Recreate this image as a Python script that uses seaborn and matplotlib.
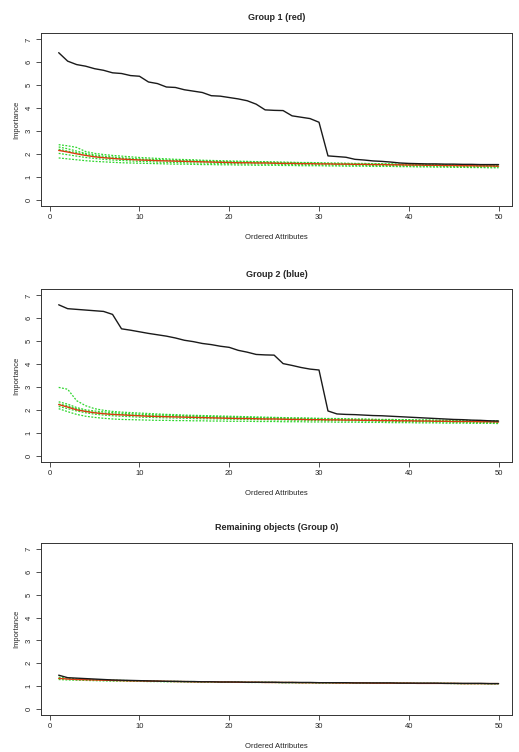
import numpy as np
import pandas as pd
import matplotlib
matplotlib.use('Agg')
import matplotlib.pyplot as plt
import seaborn as sns

# ordered attribute index 1..50
attrs = list(range(1, 51))

titles = ['Group 1 (red)', 'Group 2 (blue)', 'Remaining objects (Group 0)']

# group 1
g1_obs = [6.42, 6.05, 5.90, 5.83, 5.72, 5.65, 5.54, 5.51, 5.42, 5.39,
          5.14, 5.07, 4.92, 4.90, 4.80, 4.74, 4.68, 4.54, 4.52, 4.46,
          4.40, 4.32, 4.17, 3.92, 3.90, 3.89, 3.66, 3.60, 3.54, 3.38,
          1.91, 1.88, 1.85, 1.76, 1.73, 1.69, 1.67, 1.64, 1.60, 1.58,
          1.57, 1.56, 1.56, 1.55, 1.55, 1.54, 1.54, 1.53, 1.53, 1.53]
g1_mean = [2.15, 2.08, 2.00, 1.93, 1.87, 1.83, 1.80, 1.77, 1.75, 1.73,
           1.72, 1.70, 1.69, 1.68, 1.67, 1.66, 1.65, 1.64, 1.63, 1.62,
           1.61, 1.61, 1.60, 1.60, 1.59, 1.58, 1.58, 1.57, 1.57, 1.56,
           1.56, 1.55, 1.55, 1.54, 1.54, 1.53, 1.53, 1.52, 1.52, 1.51,
           1.51, 1.50, 1.50, 1.49, 1.49, 1.48, 1.48, 1.47, 1.47, 1.46]
g1_perm = [
    [2.40, 2.35, 2.28, 2.10, 2.02, 1.97, 1.93, 1.90, 1.87, 1.84,
     1.82, 1.80, 1.78, 1.76, 1.75, 1.74, 1.72, 1.71, 1.70, 1.69,
     1.68, 1.67, 1.66, 1.66, 1.65, 1.64, 1.63, 1.62, 1.62, 1.61,
     1.60, 1.60, 1.59, 1.58, 1.58, 1.57, 1.57, 1.56, 1.55, 1.55,
     1.54, 1.54, 1.53, 1.53, 1.52, 1.52, 1.51, 1.51, 1.50, 1.50],
    [2.30, 2.22, 2.12, 2.02, 1.95, 1.90, 1.86, 1.83, 1.80, 1.78,
     1.76, 1.75, 1.73, 1.72, 1.71, 1.70, 1.69, 1.68, 1.67, 1.66,
     1.65, 1.64, 1.64, 1.63, 1.62, 1.61, 1.61, 1.60, 1.59, 1.59,
     1.58, 1.57, 1.57, 1.56, 1.56, 1.55, 1.55, 1.54, 1.53, 1.53,
     1.52, 1.52, 1.51, 1.51, 1.50, 1.49, 1.49, 1.48, 1.48, 1.47],
    [2.20, 2.12, 2.05, 1.98, 1.90, 1.85, 1.81, 1.79, 1.77, 1.75,
     1.73, 1.72, 1.71, 1.70, 1.69, 1.68, 1.67, 1.66, 1.65, 1.64,
     1.63, 1.63, 1.62, 1.62, 1.61, 1.60, 1.60, 1.59, 1.59, 1.58,
     1.57, 1.57, 1.56, 1.56, 1.55, 1.55, 1.54, 1.54, 1.53, 1.53,
     1.52, 1.52, 1.51, 1.51, 1.50, 1.50, 1.49, 1.49, 1.48, 1.48],
    [2.02, 1.96, 1.90, 1.84, 1.80, 1.76, 1.73, 1.71, 1.69, 1.67,
     1.66, 1.64, 1.63, 1.62, 1.61, 1.60, 1.60, 1.59, 1.58, 1.57,
     1.57, 1.56, 1.56, 1.55, 1.55, 1.54, 1.54, 1.53, 1.53, 1.52,
     1.52, 1.51, 1.51, 1.50, 1.50, 1.49, 1.49, 1.48, 1.48, 1.47,
     1.47, 1.46, 1.46, 1.45, 1.45, 1.44, 1.44, 1.43, 1.43, 1.42],
    [1.82, 1.78, 1.74, 1.70, 1.67, 1.65, 1.63, 1.61, 1.60, 1.59,
     1.58, 1.57, 1.56, 1.55, 1.55, 1.54, 1.53, 1.53, 1.52, 1.52,
     1.51, 1.51, 1.50, 1.50, 1.50, 1.49, 1.49, 1.48, 1.48, 1.48,
     1.47, 1.47, 1.46, 1.46, 1.46, 1.45, 1.45, 1.45, 1.44, 1.44,
     1.43, 1.43, 1.42, 1.42, 1.41, 1.41, 1.40, 1.40, 1.39, 1.39],
]

# group 2
g2_obs = [6.59, 6.42, 6.39, 6.36, 6.33, 6.30, 6.17, 5.54, 5.48, 5.41,
          5.34, 5.28, 5.22, 5.14, 5.04, 4.98, 4.90, 4.85, 4.78, 4.73,
          4.60, 4.52, 4.42, 4.40, 4.39, 4.02, 3.94, 3.85, 3.78, 3.74,
          1.95, 1.82, 1.80, 1.79, 1.77, 1.75, 1.74, 1.72, 1.70, 1.68,
          1.66, 1.64, 1.62, 1.60, 1.58, 1.57, 1.55, 1.54, 1.52, 1.51]
g2_mean = [2.23, 2.12, 2.00, 1.93, 1.87, 1.83, 1.80, 1.78, 1.76, 1.74,
           1.72, 1.71, 1.70, 1.69, 1.68, 1.67, 1.66, 1.65, 1.64, 1.63,
           1.62, 1.62, 1.61, 1.60, 1.60, 1.59, 1.58, 1.58, 1.57, 1.57,
           1.56, 1.56, 1.55, 1.55, 1.54, 1.54, 1.53, 1.53, 1.52, 1.52,
           1.51, 1.51, 1.50, 1.50, 1.49, 1.49, 1.49, 1.48, 1.48, 1.47]
g2_perm = [
    [2.98, 2.90, 2.40, 2.18, 2.05, 1.98, 1.93, 1.90, 1.88, 1.86,
     1.84, 1.82, 1.80, 1.79, 1.77, 1.76, 1.75, 1.74, 1.73, 1.72,
     1.71, 1.70, 1.69, 1.68, 1.67, 1.66, 1.65, 1.65, 1.64, 1.63,
     1.62, 1.62, 1.61, 1.60, 1.60, 1.59, 1.58, 1.58, 1.57, 1.57,
     1.56, 1.56, 1.55, 1.55, 1.54, 1.54, 1.53, 1.53, 1.52, 1.52],
    [2.35, 2.25, 2.10, 2.00, 1.95, 1.91, 1.88, 1.85, 1.83, 1.81,
     1.79, 1.78, 1.77, 1.75, 1.74, 1.73, 1.72, 1.71, 1.70, 1.69,
     1.68, 1.67, 1.66, 1.65, 1.65, 1.64, 1.63, 1.62, 1.62, 1.61,
     1.60, 1.60, 1.59, 1.58, 1.58, 1.57, 1.56, 1.56, 1.55, 1.55,
     1.54, 1.54, 1.53, 1.52, 1.52, 1.51, 1.51, 1.50, 1.50, 1.49],
    [2.25, 2.18, 2.05, 1.95, 1.89, 1.85, 1.82, 1.80, 1.78, 1.76,
     1.75, 1.74, 1.73, 1.72, 1.71, 1.70, 1.69, 1.68, 1.67, 1.66,
     1.65, 1.65, 1.64, 1.63, 1.63, 1.62, 1.61, 1.61, 1.60, 1.60,
     1.59, 1.58, 1.58, 1.57, 1.57, 1.56, 1.56, 1.55, 1.55, 1.54,
     1.53, 1.53, 1.52, 1.52, 1.51, 1.51, 1.50, 1.50, 1.49, 1.49],
    [2.15, 2.05, 1.95, 1.87, 1.81, 1.77, 1.74, 1.72, 1.70, 1.68,
     1.67, 1.66, 1.65, 1.64, 1.63, 1.62, 1.61, 1.61, 1.60, 1.59,
     1.59, 1.58, 1.57, 1.57, 1.56, 1.56, 1.55, 1.55, 1.54, 1.54,
     1.53, 1.53, 1.52, 1.52, 1.51, 1.51, 1.50, 1.50, 1.49, 1.49,
     1.48, 1.48, 1.47, 1.47, 1.46, 1.46, 1.45, 1.45, 1.44, 1.44],
    [2.05, 1.92, 1.80, 1.72, 1.67, 1.63, 1.60, 1.58, 1.57, 1.56,
     1.55, 1.54, 1.54, 1.53, 1.53, 1.52, 1.52, 1.51, 1.51, 1.50,
     1.50, 1.50, 1.49, 1.49, 1.49, 1.48, 1.48, 1.48, 1.47, 1.47,
     1.47, 1.46, 1.46, 1.46, 1.45, 1.45, 1.45, 1.44, 1.44, 1.44,
     1.43, 1.43, 1.43, 1.42, 1.42, 1.42, 1.41, 1.41, 1.41, 1.40],
]

# group 0
g0_obs = [1.47, 1.36, 1.34, 1.32, 1.30, 1.28, 1.26, 1.25, 1.24, 1.23,
          1.22, 1.21, 1.20, 1.20, 1.19, 1.19, 1.18, 1.18, 1.17, 1.17,
          1.17, 1.16, 1.16, 1.16, 1.16, 1.15, 1.15, 1.15, 1.15, 1.14,
          1.14, 1.14, 1.14, 1.13, 1.13, 1.13, 1.13, 1.13, 1.12, 1.12,
          1.12, 1.12, 1.12, 1.11, 1.11, 1.11, 1.11, 1.11, 1.10, 1.10]
g0_mean = [1.33, 1.30, 1.28, 1.27, 1.26, 1.25, 1.24, 1.23, 1.22, 1.22,
           1.21, 1.21, 1.20, 1.19, 1.19, 1.18, 1.18, 1.18, 1.17, 1.17,
           1.16, 1.16, 1.16, 1.15, 1.15, 1.15, 1.15, 1.14, 1.14, 1.14,
           1.14, 1.13, 1.13, 1.13, 1.13, 1.12, 1.12, 1.12, 1.12, 1.12,
           1.11, 1.11, 1.11, 1.11, 1.11, 1.10, 1.10, 1.10, 1.10, 1.10]
g0_perm = [
    [1.38, 1.34, 1.31, 1.29, 1.27, 1.26, 1.25, 1.24, 1.23, 1.22,
     1.22, 1.21, 1.20, 1.20, 1.19, 1.19, 1.18, 1.18, 1.17, 1.17,
     1.17, 1.16, 1.16, 1.16, 1.15, 1.15, 1.15, 1.14, 1.14, 1.14,
     1.14, 1.13, 1.13, 1.13, 1.13, 1.12, 1.12, 1.12, 1.12, 1.12,
     1.11, 1.11, 1.11, 1.11, 1.11, 1.10, 1.10, 1.10, 1.10, 1.10],
    [1.28, 1.26, 1.25, 1.24, 1.23, 1.22, 1.21, 1.21, 1.20, 1.20,
     1.19, 1.19, 1.18, 1.18, 1.18, 1.17, 1.17, 1.17, 1.16, 1.16,
     1.16, 1.15, 1.15, 1.15, 1.15, 1.14, 1.14, 1.14, 1.14, 1.13,
     1.13, 1.13, 1.13, 1.13, 1.12, 1.12, 1.12, 1.12, 1.12, 1.11,
     1.11, 1.11, 1.11, 1.11, 1.10, 1.10, 1.10, 1.10, 1.09, 1.09],
]

groups = [(g1_obs, g1_mean, g1_perm),
          (g2_obs, g2_mean, g2_perm),
          (g0_obs, g0_mean, g0_perm)]

sns.set_style('ticks')
plt.rcParams['font.family'] = ['Liberation Sans', 'DejaVu Sans']

fig = plt.figure(figsize=(5.19, 7.52), dpi=100)
# panel boxes in pixels (top, bottom)
boxes = [(33, 206), (289, 462), (543, 715)]
W, H = 519.0, 752.0

for (top, bot), title, (obs, mean, perm) in zip(boxes, titles, groups):
    ax = fig.add_axes([41 / W, 1 - bot / H, (512 - 41) / W, (bot - top) / H])
    for p in perm:
        sns.lineplot(x=attrs, y=p, ax=ax, color='#2ed62e', linestyle=(0, (1.5, 1.2)),
                     linewidth=0.9)
    sns.lineplot(x=attrs, y=mean, ax=ax, color='#d93a10', linewidth=1.0)
    sns.lineplot(x=attrs, y=obs, ax=ax, color='#1a1a1a', linewidth=1.0)

    ax.set_xlim(-0.97, 51.5)
    ax.set_ylim(-0.28, 7.28)
    ax.set_xticks([0, 10, 20, 30, 40, 50])
    ax.set_yticks(range(8))
    ax.tick_params(labelsize=5.5, length=3.5, width=0.6, color='#333333', pad=2.5)
    for lab in ax.get_yticklabels():
        lab.set_rotation(90)
        lab.set_va('center')
    for s in ax.spines.values():
        s.set_linewidth(0.7)
        s.set_color('#333333')
    ax.set_title(title, fontsize=6.5, fontweight='bold', pad=9)
    ax.set_xlabel('Ordered Attributes', fontsize=5.5, labelpad=9)
    ax.set_ylabel('Importance', fontsize=5.5, labelpad=4)

fig.savefig('out.png', dpi=100, facecolor='white')
